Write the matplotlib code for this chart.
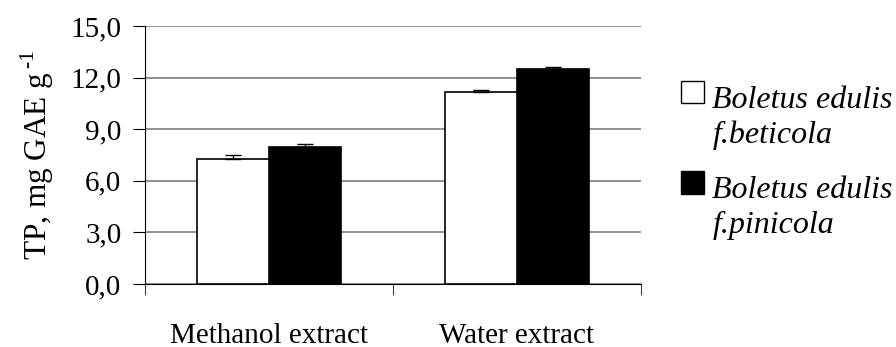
import matplotlib.pyplot as plt
from matplotlib.patches import Patch, Rectangle
from matplotlib.legend_handler import HandlerPatch
import numpy as np

plt.rcParams['font.family'] = ['Liberation Serif', 'DejaVu Serif']
plt.rcParams['mathtext.fontset'] = 'custom'
plt.rcParams['mathtext.rm'] = 'Liberation Serif'

categories = ['Methanol extract', 'Water extract']
series = ['Boletus edulis\nf.beticola', 'Boletus edulis\nf.pinicola']
beticola = [7.28, 11.19]
beticola_err = [0.2, 0.1]
pinicola = [7.99, 12.52]
pinicola_err = [0.12, 0.12]
yticks = [0, 3, 6, 9, 12, 15]

fig = plt.figure(figsize=(8.96, 3.47), dpi=100)
ax = fig.add_axes([0.1618, 0.1816, 0.5536, 0.7435])

x = np.arange(len(categories))
w = 0.29
ekw = dict(ecolor='black', elinewidth=1, capsize=6, capthick=1)
ax.bar(x - w/2, beticola, w, color='white', edgecolor='black', linewidth=1.2,
       yerr=[[0] * len(x), beticola_err], error_kw=ekw, zorder=3)
ax.bar(x + w/2, pinicola, w, color='black', edgecolor='black', linewidth=1.2,
       yerr=[[0] * len(x), pinicola_err], error_kw=ekw, zorder=2)

ax.set_xlim(-0.5, 1.5)
ax.set_ylim(0, 15)
ax.set_yticks(yticks)
ax.set_yticklabels([('%.1f' % v).replace('.', ',') for v in yticks])
ax.yaxis.grid(True, color='#808080', linewidth=1.2, zorder=0)
ax.set_axisbelow(True)

ax.set_xticks([-0.5, 0.5, 1.5])
ax.set_xticklabels([])
ax.set_xticks(x, minor=True)
ax.set_xticklabels(categories, minor=True)
ax.tick_params(axis='x', which='major', length=8, direction='out', color='#404040')
ax.tick_params(axis='x', which='minor', length=0, pad=28, labelsize=21)
ax.tick_params(axis='y', length=9, direction='out', pad=8, labelsize=21)

for s in ['top', 'right']:
    ax.spines[s].set_visible(False)

ax.set_ylabel('TP, mg GAE g$^{\\,\\text{-1}}$', fontsize=22.5)
ax.yaxis.set_label_coords(-0.18, 0.5)


def top_box(legend, orig_handle, xdescent, ydescent, width, height, fontsize):
    return Rectangle((-xdescent, -ydescent + 0.8 * fontsize), width, height)


handles = [Patch(facecolor='white', edgecolor='black'),
           Patch(facecolor='black', edgecolor='black')]
leg = fig.legend(handles, series, loc='upper left', bbox_to_anchor=(0.746, 0.79),
                 frameon=False, prop=dict(style='italic', size=23),
                 handlelength=0.7, handleheight=0.7, handletextpad=0.28,
                 labelspacing=0.83, borderaxespad=0,
                 handler_map={Patch: HandlerPatch(patch_func=top_box)})
for t in leg.get_texts():
    t.set_linespacing(1.25)

fig.savefig('out.png', dpi=100)
